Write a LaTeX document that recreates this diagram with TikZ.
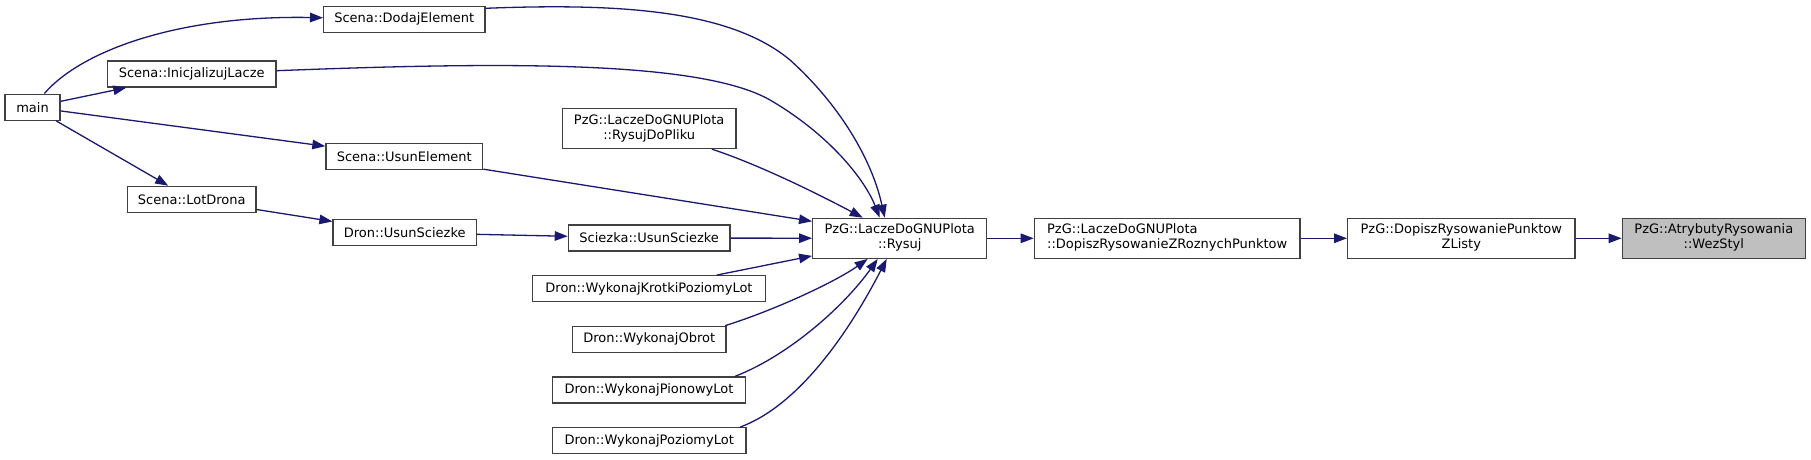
\documentclass[tikz,border=0pt]{standalone}
\usepackage{fontspec}
\setmainfont{DejaVu Sans}
\usetikzlibrary{arrows.meta}
\definecolor{edgeblue}{HTML}{191970}
\definecolor{boxgray}{HTML}{404040}
\definecolor{focusfill}{HTML}{BFBFBF}
\newcommand{\twoc}[2]{\begin{tabular}{@{}c@{}}#1\\#2\end{tabular}}
\newcommand{\twol}[2]{\begin{tabular}{@{}l@{}}#1\\#2\end{tabular}}
\begin{document}
\begin{tikzpicture}[x=1pt,y=-1pt,
  fn/.style={draw=boxgray, line width=1.3pt, fill=white, inner sep=0pt, minimum height=26pt, font=\fontsize{13}{15}\selectfont},
  fn2/.style={fn, minimum height=40pt},
  call/.style={draw=edgeblue, line width=1.3pt, -{Triangle[length=13pt,width=9.5pt]}}
]
\useasboundingbox (0,0) rectangle (1811,460);
\node[fn, minimum width=55pt] (main) at (32.5,107.2) {main};
\node[fn, minimum width=161.3pt] (dodaj) at (404.3,19.3) {Scena::DodajElement};
\node[fn, minimum width=168.7pt] (inic) at (191.7,74) {Scena::InicjalizujLacze};
\node[fn, minimum width=156.7pt] (usunel) at (404.3,156.7) {Scena::UsunElement};
\node[fn, minimum width=128.3pt] (lot) at (191.8,199.3) {Scena::LotDrona};
\node[fn, minimum width=143.3pt] (dronus) at (404.7,232.8) {Dron::UsunSciezke};
\node[fn2, minimum width=173.7pt] (rdp) at (649.2,128.5) {\twoc{PzG::LaczeDoGNUPlota}{::RysujDoPliku}};
\node[fn, minimum width=161.7pt] (sciezka) at (649.2,238) {Sciezka::UsunSciezke};
\node[fn, minimum width=232.7pt] (krotki) at (649,288.7) {Dron::WykonajKrotkiPoziomyLot};
\node[fn, minimum width=153.7pt] (obrot) at (649.2,339.3) {Dron::WykonajObrot};
\node[fn, minimum width=192.7pt] (pion) at (649,390) {Dron::WykonajPionowyLot};
\node[fn, minimum width=193.7pt] (poziom) at (649.2,440.7) {Dron::WykonajPoziomyLot};
\node[fn2, minimum width=174pt] (rysuj) at (899.7,238.3) {\twoc{PzG::LaczeDoGNUPlota}{::Rysuj}};
\node[fn2, minimum width=265.7pt] (zrozn) at (1167.2,238.3) {\twol{PzG::LaczeDoGNUPlota}{::DopiszRysowanieZRoznychPunktow}};
\node[fn2, minimum width=227.3pt] (zlisty) at (1461.3,238.3) {\twoc{PzG::DopiszRysowaniePunktow}{ZListy}};
\node[fn2, minimum width=183pt, fill=focusfill] (wez) at (1713.8,238.3) {\twoc{PzG::AtrybutyRysowania}{::WezStyl}};

\draw[call] (main) .. controls (82,50) and (180,15) .. (dodaj);
\draw[call] (main) -- (inic);
\draw[call] (main) -- (usunel);
\draw[call] (main) -- (lot);
\draw[call] (lot) -- (dronus);
\draw[call] (dronus) -- (sciezka);
\draw[call] (sciezka) -- (rysuj);
\draw[call] ([yshift=11pt]dodaj.east) .. controls (620,3) and (730,10) .. (790,60) .. controls (840,105) and (872,160) .. ([xshift=-15pt]rysuj.north);
\draw[call] (inic) .. controls (500,62) and (700,60) .. (770,100) .. controls (830,135) and (865,180) .. ([xshift=-20pt]rysuj.north);
\draw[call] (usunel) -- ([yshift=17pt]rysuj.west);
\draw[call] (rdp) .. controls (760,165) and (820,195) .. ([xshift=-37pt]rysuj.north);
\draw[call] (krotki) -- (rysuj);
\draw[call] ([xshift=76pt]obrot.north) .. controls (775,310) and (835,282) .. ([xshift=-32pt]rysuj.south);
\draw[call] ([xshift=86pt]pion.north) .. controls (790,355) and (845,305) .. ([xshift=-22pt]rysuj.south);
\draw[call] ([xshift=91pt]poziom.north) .. controls (800,405) and (850,330) .. ([xshift=-13pt]rysuj.south);
\draw[call] (rysuj) -- (zrozn);
\draw[call] (zrozn) -- (zlisty);
\draw[call] (zlisty) -- (wez);
\end{tikzpicture}
\end{document}
